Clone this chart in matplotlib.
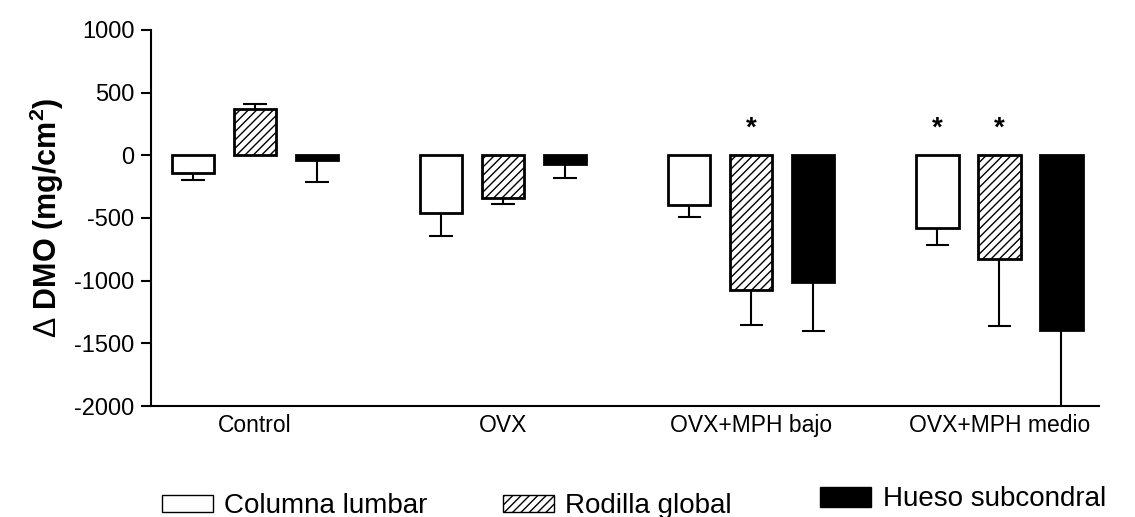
import matplotlib
matplotlib.use('Agg')

import matplotlib.pyplot as plt
import numpy as np
from matplotlib.patches import Patch

plt.rcParams['font.family'] = ['Liberation Sans', 'DejaVu Sans']
plt.rcParams['mathtext.fontset'] = 'custom'
plt.rcParams['mathtext.rm'] = 'Liberation Sans'
plt.rcParams['mathtext.bf'] = 'Liberation Sans:bold'
plt.rcParams['axes.unicode_minus'] = False
plt.rcParams['hatch.linewidth'] = 1.0


# ---------- Data ----------

groups = ["Control", "OVX", "OVX+MPH bajo", "OVX+MPH medio"]

columna = [-145, -462, -397, -581]
columna_err = [50, 180, 96, 134]

rodilla = [368, -344, -1077, -824]
rodilla_err = [42, 43, 278, 541]

hueso = [-35, -67, -1013, -1392]
hueso_err = [180, 112, 392, 720]

# (series index, group index) pairs marked as significant
significant = [(1, 2), (0, 3), (1, 3)]
star_level = 215

series = [
    ("Columna lumbar", columna, columna_err, "white", ""),
    ("Rodilla global", rodilla, rodilla_err, "white", "////"),
    ("Hueso subcondral", hueso, hueso_err, "black", ""),
]


# ---------- Plot ----------

fig = plt.figure(figsize=(11.35, 5.17), dpi=100)
ax = fig.add_axes([0.133, 0.2147, 0.835, 0.7273])

width = 0.68
group_pos = np.arange(len(groups)) * 4

for i, (name, vals, errs, color, hatch) in enumerate(series):
    x = group_pos + i
    vals = np.array(vals)
    errs = np.array(errs)
    ax.bar(x, vals, width=width, color=color, edgecolor="black",
           linewidth=2, hatch=hatch, zorder=2)
    # one-sided error bars, pointing away from zero
    tips = vals + np.sign(vals) * errs
    ax.vlines(x, vals, tips, color="black", linewidth=1.5, zorder=1)
    ax.hlines(tips, x - 0.19, x + 0.19, color="black", linewidth=1.5, zorder=1)

for s, g in significant:
    ax.text(group_pos[g] + s, star_level, "*", ha="center", va="center",
            fontsize=20, fontweight="bold")

ax.set_xlim(-0.68, 14.6)
ax.set_ylim(-2000, 1000)
ax.set_yticks([1000, 500, 0, -500, -1000, -1500, -2000])
ax.set_xticks(group_pos + 1)
ax.set_xticklabels(groups, fontsize=16.5)
ax.tick_params(axis="x", length=0, pad=6)
ax.tick_params(axis="y", labelsize=17, length=7, width=1.5, pad=5)

for side in ["top", "right"]:
    ax.spines[side].set_visible(False)
ax.spines["left"].set_linewidth(1.5)
ax.spines["bottom"].set_linewidth(1.5)

ax.set_ylabel(r"$\Delta$ DMO (mg/cm$^{\mathbf{2}}$)", fontsize=22,
              fontweight="bold", labelpad=6)

# legend entries laid out along the bottom
legend_spots = [(0.1427, 0.021), (0.443, 0.021), (0.7225, 0.034)]
handle_heights = [0.6, 0.6, 0.72]
for (name, _, _, color, hatch), (lx, ly), hh in zip(series, legend_spots,
                                                    handle_heights):
    handle = Patch(facecolor=color, edgecolor="black", hatch=hatch, linewidth=1)
    fig.legend([handle], [name], loc="center left", bbox_to_anchor=(lx, ly),
               frameon=False, fontsize=20, handlelength=1.85,
               handleheight=hh, handletextpad=0.4, borderpad=0,
               borderaxespad=0)

fig.savefig("out.png", dpi=100)
